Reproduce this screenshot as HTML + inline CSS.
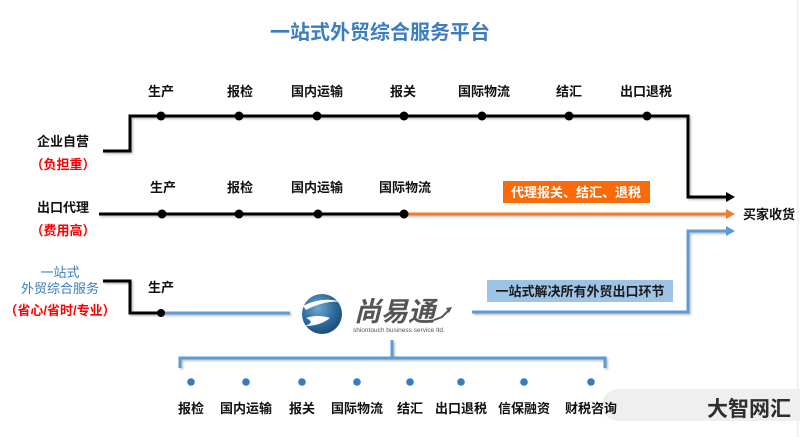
<!DOCTYPE html>
<html><head><meta charset="utf-8">
<style>
html,body{margin:0;padding:0;background:#fff;}
svg{display:block;}
text{font-family:"Liberation Sans","Noto Sans CJK SC",sans-serif;}
</style></head>
<body>
<svg width="800" height="437" viewBox="0 0 800 437" xmlns="http://www.w3.org/2000/svg">
<defs>
<filter id="sh" filterUnits="userSpaceOnUse" x="0" y="0" width="800" height="437">
<feDropShadow dx="1.5" dy="1.5" stdDeviation="1" flood-color="#000" flood-opacity="0.25"/>
</filter>
<radialGradient id="lg" cx="40%" cy="35%" r="70%">
<stop offset="0" stop-color="#6fa8d2"/><stop offset="0.6" stop-color="#2c6a9e"/><stop offset="1" stop-color="#1a4a75"/>
</radialGradient>
</defs>
<rect width="800" height="437" fill="#fff"/>
<line x1="798" y1="0" x2="798" y2="437" stroke="#e6e6e6" stroke-width="1"/>

<!-- Title -->
<text x="380" y="39" text-anchor="middle" font-size="20" font-weight="bold" fill="#3b7dbf">一站式外贸综合服务平台</text>

<!-- Row 1 -->
<g filter="url(#sh)">
<polyline points="103,151 130,151 130,116 688,116 688,197 728,197" fill="none" stroke="#000" stroke-width="3"/>
</g>
<polygon points="726,192 735,197 726,202" fill="#000"/>
<g fill="#000">
<circle cx="161" cy="116" r="4.5"/><circle cx="239" cy="116" r="4.5"/><circle cx="317" cy="116" r="4.5"/>
<circle cx="404" cy="116" r="4.5"/><circle cx="482" cy="116" r="4.5"/><circle cx="569" cy="116" r="4.5"/><circle cx="647" cy="116" r="4.5"/>
</g>
<g font-size="13" font-weight="bold" fill="#111" text-anchor="middle">
<text x="161" y="96">生产</text><text x="240" y="96">报检</text><text x="317" y="96">国内运输</text>
<text x="403" y="96">报关</text><text x="484" y="96">国际物流</text><text x="569" y="96">结汇</text><text x="646" y="96">出口退税</text>
</g>

<!-- Row 2 -->
<g filter="url(#sh)">
<line x1="99" y1="214" x2="404" y2="214" stroke="#000" stroke-width="3"/>
<line x1="404" y1="214" x2="728" y2="214" stroke="#ed7d31" stroke-width="3"/>
</g>
<polygon points="726,209 735,214 726,219" fill="#ed7d31"/>
<g fill="#000">
<circle cx="162" cy="214" r="4.5"/><circle cx="239" cy="214" r="4.5"/><circle cx="318" cy="214" r="4.5"/><circle cx="404" cy="214" r="4.5"/>
</g>
<g font-size="13" font-weight="bold" fill="#111" text-anchor="middle">
<text x="163" y="192">生产</text><text x="240" y="192">报检</text><text x="317" y="192">国内运输</text><text x="405" y="192">国际物流</text>
</g>
<rect x="503" y="181" width="147" height="22" fill="#f96a0a"/>
<text x="576" y="197" text-anchor="middle" font-size="13" font-weight="bold" fill="#fff">代理报关、结汇、退税</text>
<text x="769" y="219" text-anchor="middle" font-size="13" font-weight="bold" fill="#111">买家收货</text>

<!-- Row 3 -->
<g filter="url(#sh)">
<polyline points="103,281 130,281 130,313 161,313" fill="none" stroke="#000" stroke-width="3"/>
<line x1="161" y1="313" x2="290" y2="313" stroke="#5b9bd5" stroke-width="3"/>
<polyline points="472,312 688,312 688,231 728,231" fill="none" stroke="#5b9bd5" stroke-width="3"/>
</g>
<polygon points="726,226 735,231 726,236" fill="#5b9bd5"/>
<circle cx="161" cy="313" r="4" fill="#000"/>
<text x="161" y="292" text-anchor="middle" font-size="13" font-weight="bold" fill="#111">生产</text>
<rect x="487" y="280" width="186" height="22" fill="#9dc3e6"/>
<text x="580" y="296" text-anchor="middle" font-size="13" font-weight="bold" fill="#1a1a1a">一站式解决所有外贸出口环节</text>

<!-- Logo -->
<circle cx="322" cy="314" r="20" fill="url(#lg)"/>
<path d="M303,306 Q322,296 342,302 Q325,300 306,310 Z" fill="#fff"/>
<path d="M306,318 Q318,314 330,318 Q320,326 305,326 Q316,322 306,318 Z" fill="#fff"/>
<text x="354" y="321" font-size="27" font-weight="bold" font-style="italic" fill="#555">尚易通</text>
<polyline points="434,320 442,317 448,311" fill="none" stroke="#555" stroke-width="2"/>
<polygon points="446,308 452,307 449,313" fill="#555"/>
<text x="353" y="332" font-size="6.5" fill="#555">shiontouch business service ltd.</text>

<!-- Bracket -->
<g filter="url(#sh)">
<line x1="392" y1="340" x2="392" y2="358" stroke="#5b9bd5" stroke-width="3"/>
<polyline points="180,368 180,358 605,358 605,368" fill="none" stroke="#5b9bd5" stroke-width="3"/>
</g>
<g fill="#3a7abf">
<circle cx="191" cy="382" r="3.8"/><circle cx="246" cy="382" r="3.8"/><circle cx="302" cy="382" r="3.8"/><circle cx="357" cy="382" r="3.8"/>
<circle cx="410" cy="382" r="3.8"/><circle cx="461" cy="382" r="3.8"/><circle cx="524" cy="382" r="3.8"/><circle cx="591" cy="382" r="3.8"/>
</g>

<!-- Watermark -->
<path d="M618,389 L800,389 L800,421 L618,421 A16,16 0 0 1 618,389 Z" fill="#efefef"/>
<text x="749" y="416" text-anchor="middle" font-size="21" font-weight="bold" fill="#2e2e2e">大智网汇</text>

<g font-size="13" font-weight="bold" fill="#111" text-anchor="middle">
<text x="191" y="413">报检</text><text x="246" y="413">国内运输</text><text x="302" y="413">报关</text><text x="357" y="413">国际物流</text>
<text x="410" y="413">结汇</text><text x="461" y="413">出口退税</text><text x="524" y="413">信保融资</text><text x="591" y="413">财税咨询</text>
</g>

<!-- Left labels -->
<g font-size="13" font-weight="bold" text-anchor="middle">
<text x="63" y="146" fill="#111">企业自营</text>
<text x="63" y="169" fill="#ff0000">（负担重）</text>
<text x="63" y="212" fill="#111">出口代理</text>
<text x="63" y="235" fill="#ff0000">（费用高）</text>
<text x="60" y="277" fill="#3b7dbf" font-weight="normal">一站式</text>
<text x="60" y="293" fill="#3b7dbf" font-weight="normal">外贸综合服务</text>
<text x="60" y="315" fill="#ff0000">（省心/省时/专业）</text>
</g>
</svg>
</body></html>
